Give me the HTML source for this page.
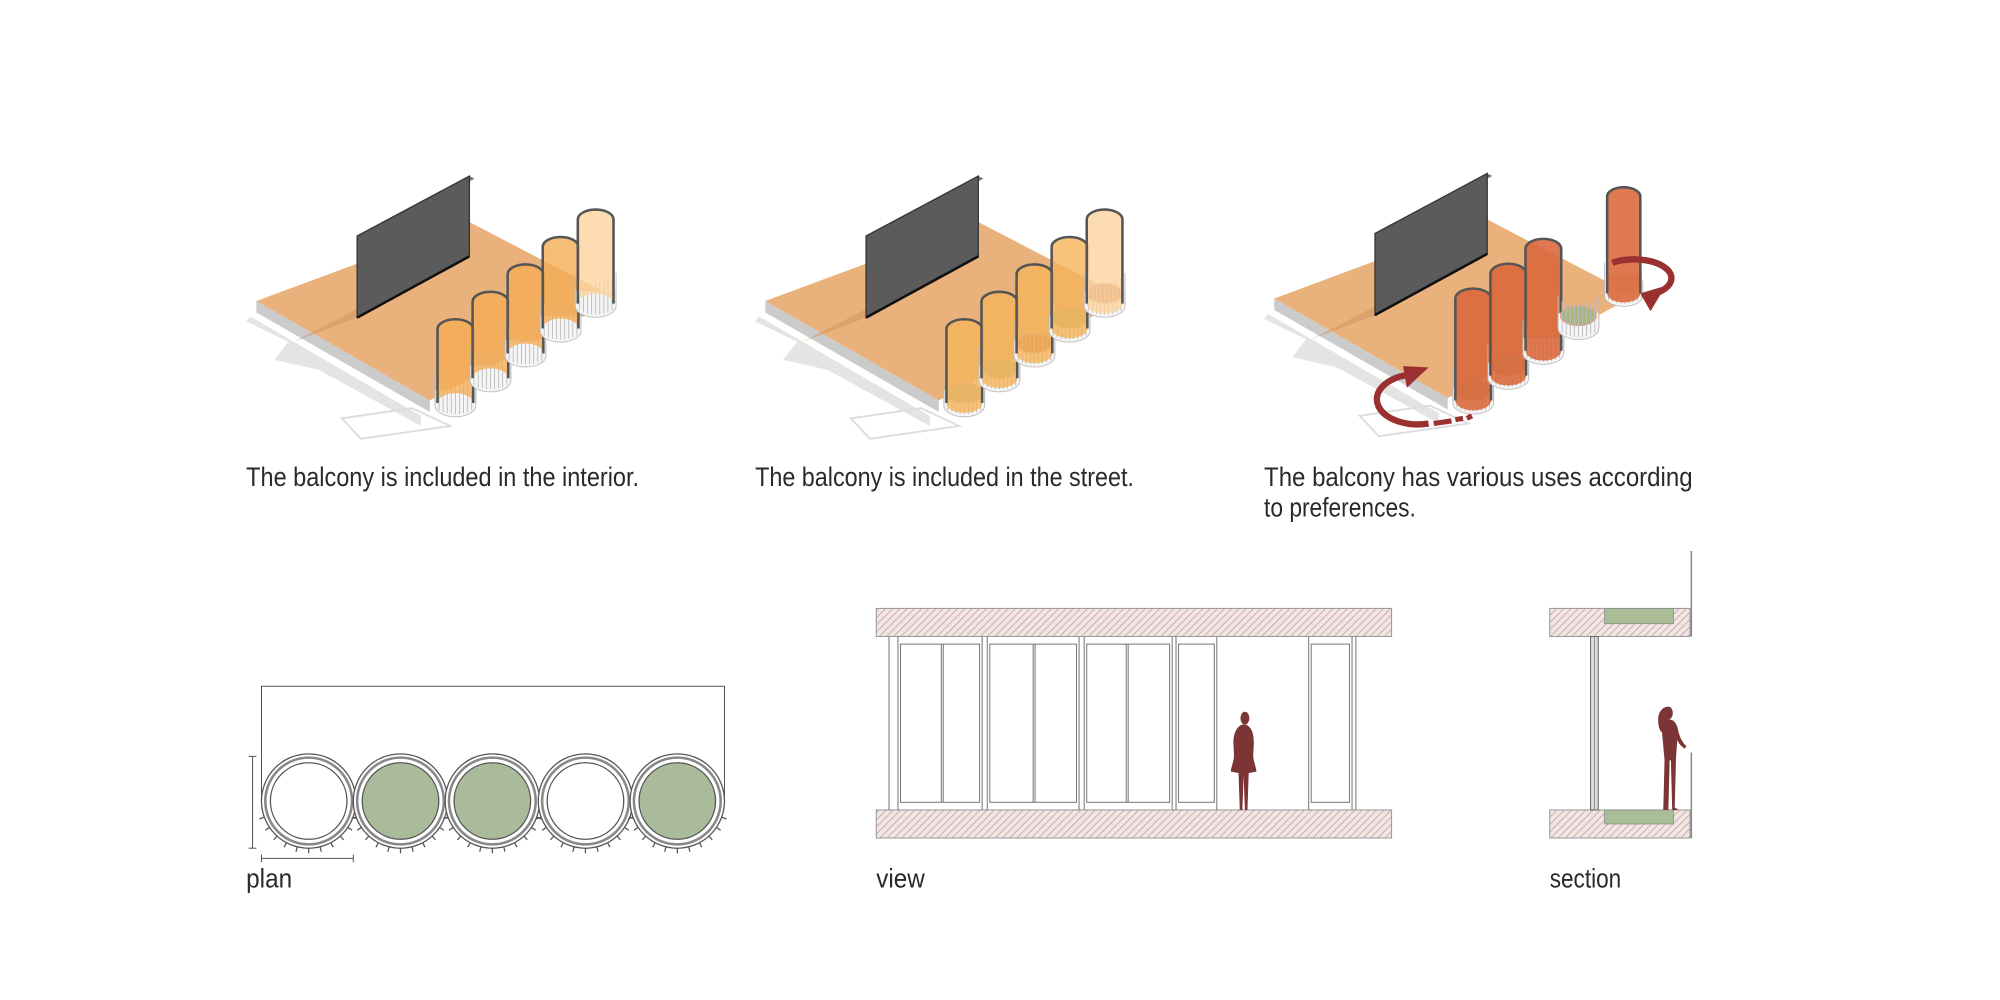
<!DOCTYPE html>
<html><head><meta charset="utf-8"><style>
html,body{margin:0;padding:0;background:#fff;width:2000px;height:1000px;overflow:hidden}
svg{display:block}
text{font-family:"Liberation Sans",sans-serif;fill:#2a2a2a}
</style></head><body>
<svg id="s" width="2000" height="1000" viewBox="0 0 1568 784" xmlns="http://www.w3.org/2000/svg">
<defs>
<pattern id="h" width="4" height="4" patternUnits="userSpaceOnUse" patternTransform="rotate(45)">
<rect width="4" height="4" fill="#f1e6e4"/><line x1="0" y1="0" x2="0" y2="4" stroke="#b88f8c" stroke-width="1"/></pattern>
</defs>
<g id="d1"></g><g id="d2" transform="translate(399,0)"></g><g id="d3" transform="translate(798,-2)"></g>

<text x="193" y="381" font-size="21" textLength="308" lengthAdjust="spacingAndGlyphs">The balcony is included in the interior.</text>
<text x="592" y="381" font-size="21" textLength="297" lengthAdjust="spacingAndGlyphs">The balcony is included in the street.</text>
<text x="991" y="381" font-size="21" textLength="336" lengthAdjust="spacingAndGlyphs">The balcony has various uses according</text>
<text x="991" y="405" font-size="21" textLength="119" lengthAdjust="spacingAndGlyphs">to preferences.</text>

<g id="plan" fill="none" stroke="#555" stroke-width="0.8">
<polyline points="205,628 205,538 568,538 568,628"/>
<line x1="198" y1="593" x2="198" y2="665"/><line x1="195" y1="593" x2="201" y2="593"/><line x1="195" y1="665" x2="201" y2="665"/>
<line x1="205" y1="673" x2="277" y2="673"/><line x1="205" y1="670" x2="205" y2="676"/><line x1="277" y1="670" x2="277" y2="676"/>
</g>
<text x="193" y="696" font-size="21" textLength="36" lengthAdjust="spacingAndGlyphs">plan</text>

<rect x="687" y="477" width="404" height="22" fill="url(#h)" stroke="#999" stroke-width="0.8"/>
<rect x="687" y="635" width="404" height="22" fill="url(#h)" stroke="#999" stroke-width="0.8"/>
<g id="view" fill="none" stroke="#777" stroke-width="0.8"></g>
<g fill="#7b3535">
<ellipse cx="976" cy="563" rx="3.5" ry="5"/>
<path d="M976,568 c5,1 7,7 7,14 c0,6 -1,10 0,14 c1,4 2,7 2,9 l-6,1 l-1,29 l-2,0 l-1,-27 l-1,27 l-2,0 l-1,-29 l-6,-1 c0,-2 1,-5 2,-9 c1,-4 0,-8 0,-14 c0,-7 3,-13 7,-14z"/>
</g>
<text x="687" y="696" font-size="21" textLength="38" lengthAdjust="spacingAndGlyphs">view</text>

<rect x="1215" y="477" width="110" height="22" fill="url(#h)" stroke="#999" stroke-width="0.8"/>
<rect x="1215" y="635" width="110" height="22" fill="url(#h)" stroke="#999" stroke-width="0.8"/>
<rect x="1258" y="477" width="54" height="12" fill="#a9bd97" stroke="#888" stroke-width="0.6"/>
<rect x="1258" y="635" width="54" height="11" fill="#a9bd97" stroke="#888" stroke-width="0.6"/>
<rect x="1247" y="499" width="6" height="136" fill="#ddd" stroke="#666" stroke-width="0.8"/>
<line x1="1250" y1="499" x2="1250" y2="635" stroke="#666" stroke-width="0.5"/>
<line x1="1326" y1="432" x2="1326" y2="499" stroke="#888" stroke-width="1.2"/>
<line x1="1326" y1="590" x2="1326" y2="657" stroke="#888" stroke-width="1.2"/>
<g fill="#7b3535">
<ellipse cx="1308" cy="559" rx="3.5" ry="5"/>
<path d="M1308,564 c5,0 7,4 8,10 c1,4 3,8 6,11 l-1,2 c-3,-2 -5,-4 -6,-7 l-1,14 l-1,39 l3,2 l-5,0 l-1,-39 l-1,0 l-1,39 l-4,0 l1,-39 l-2,-22 c-2,-1 -3,-5 -3,-10 c0,-5 3,-10 8,-10z"/>
</g>
<text x="1215" y="696" font-size="21" textLength="56" lengthAdjust="spacingAndGlyphs">section</text>
</svg>
<script>
const NS="http://www.w3.org/2000/svg";
function el(p,tag,a){const e=document.createElementNS(NS,tag);for(const k in a)e.setAttribute(k,a[k]);p.appendChild(e);return e;}
function base(g){
 el(g,'polygon',{points:"196,248 330,326 330,334 250,290 215,282 226,268 193,252",fill:"#e4e4e4"});
 el(g,'path',{d:"M268,328 l55,-8 l30,14 l-70,10z",fill:"none",stroke:"#ddd","stroke-width":1.5});
 el(g,'polygon',{points:"201,236 337,314 337,323 201,245",fill:"#cbcbcb"});
 el(g,'polygon',{points:"201,236 368,174 483,234 337,314",fill:"#e9b27c"});
 el(g,'polygon',{points:"280,249 368,201 300,232 230,268",fill:"#c98f5c",opacity:0.45});
 el(g,'polygon',{points:"280,185 368,138 372,140 284,187",fill:"#777"});
 el(g,'polygon',{points:"280,185 368,138 368,201 280,249",fill:"#5b5b5b",stroke:"#333","stroke-width":1});
 el(g,'line',{x1:280,y1:249,x2:368,y2:201,stroke:"#111","stroke-width":2});
}
function cyl(g,cx,top,bot,r,fill,op,full,disk){
 const ry=r*0.55,R=r+2;
 const rg=el(g,'g',{});
 el(rg,'path',{d:`M${cx-R},${bot-10} L${cx-R},${bot+2} A${R},${ry+1} 0 0 0 ${cx+R},${bot+2} L${cx+R},${bot-10}`,fill:"#f5f5f5",stroke:"#bbb","stroke-width":0.7});
 if(disk) el(rg,'ellipse',{cx:cx,cy:bot-8,rx:r,ry:ry,fill:disk,stroke:"#e9a090","stroke-width":1});
 for(let i=-R;i<=R;i+=3.2){const y=bot-6+ry*Math.sqrt(Math.max(0,1-(i/R)**2));el(rg,'line',{x1:cx+i,y1:y-18,x2:cx+i,y2:y+7,stroke:"#bbb","stroke-width":0.7});}
 if(top===null) return;
 const d=full?`M${cx-r},${top} A${r},${ry} 0 0 1 ${cx+r},${top} L${cx+r},${bot} A${r},${ry} 0 0 1 ${cx-r},${bot}Z`
  :`M${cx-r},${top} A${r},${ry} 0 0 1 ${cx+r},${top} L${cx+r},${bot} A${r},${ry} 0 0 0 ${cx-r},${bot}Z`;
 el(g,'path',{d:d,fill:fill,opacity:op});
 el(g,'path',{d:`M${cx-r},${bot} L${cx-r},${top} A${r},${ry} 0 0 1 ${cx+r},${top} L${cx+r},${bot}`,fill:"none",stroke:"#555","stroke-width":2});
}
let g=document.getElementById('d1');base(g);
for(let i=0;i<5;i++){const cx=357+i*27.5,b=316-i*19.5;cyl(g,cx,b-58-i*2,b,14,i==4?"#fbd39c":"#f4ad55",0.8,false,null);}
g=document.getElementById('d2');base(g);
const disks=["#a9b77c","#a9b77c","#d66d42","#a9b77c","#d66d42"];
for(let i=0;i<5;i++){const cx=357+i*27.5,b=316-i*19.5;cyl(g,cx,b-58-i*2,b,14,i==4?"#fbd39c":"#f5b45a",0.8,true,disks[i]);}
g=document.getElementById('d3');base(g);
const c3=[["#a9b77c",1],["#a9b77c",1],[null,1],["#a9b77c",0],["#f0c0a0",2]];
for(let i=0;i<5;i++){const cx=357+i*27.5,b=316-i*19.5;
 if(c3[i][1]==1) cyl(g,cx,b-80,b,14,"#d9663a",0.88,true,c3[i][0]);
 else if(c3[i][1]==0) cyl(g,cx,null,b,14,"",0,true,c3[i][0]);
 else cyl(g,cx+8,b-82,b-6,13,"#dc6a3e",0.9,true,c3[i][0]);}
el(g,'path',{d:"M466,208 A28,14 0 0 1 500,232",fill:"none",stroke:"#9b3030","stroke-width":5});
el(g,'polygon',{points:"488,232 508,226 496,246",fill:"#9b3030"});
el(g,'path',{d:"M305,296 A26,16 0 0 0 322,334",fill:"none",stroke:"#9b3030","stroke-width":5});
el(g,'path',{d:"M326,334 l14,-2 M343,331 l6,-1 M352,330 l4,-2",fill:"none",stroke:"#9b3030","stroke-width":4});
el(g,'polygon',{points:"302,289 322,290 305,306",fill:"#9b3030"});
const P=document.getElementById('s');
const cxs=[242,314,386,459,531],gr=[0,1,1,0,1];
cxs.forEach((x,i)=>{
 el(P,'circle',{cx:x,cy:628,r:37,fill:"#fff",stroke:"#555","stroke-width":1});
 el(P,'circle',{cx:x,cy:628,r:34,fill:"none",stroke:"#888","stroke-width":2});
 el(P,'circle',{cx:x,cy:628,r:30,fill:gr[i]?"#a9bb9b":"#fff",stroke:"#555","stroke-width":1});
 for(let a=20;a<=160;a+=14){const t=a*Math.PI/180;el(P,'line',{x1:x+37*Math.cos(t),y1:628+37*Math.sin(t),x2:x+41*Math.cos(t),y2:628+41*Math.sin(t),stroke:"#555","stroke-width":1});}
});
const V=document.getElementById('view');
[697,704,770,774,846,850,919,922,954,1026,1060,1063].forEach(x=>el(V,'line',{x1:x,y1:499,x2:x,y2:635}));
[[704,770,738],[774,846,810],[850,919,883],[922,954,null],[1026,1060,null]].forEach(([a,b,m])=>{
 el(V,'rect',{x:a+2,y:505,width:b-a-4,height:124});
 if(m){el(V,'line',{x1:m,y1:505,x2:m,y2:629});el(V,'line',{x1:m+1.5,y1:505,x2:m+1.5,y2:629});}
});
</script>
</body></html>
